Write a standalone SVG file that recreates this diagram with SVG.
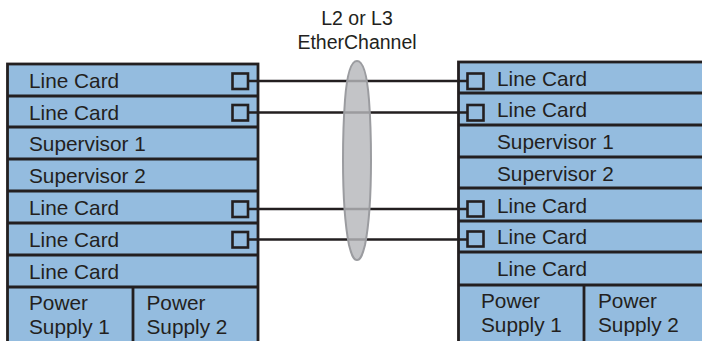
<svg xmlns="http://www.w3.org/2000/svg" width="702" height="341" viewBox="0 0 702 341">
<style>
.box{fill:#94bcdf;stroke:#231f20;stroke-width:2.8}
.div{stroke:#231f20;stroke-width:2.8;fill:none}
.port{fill:none;stroke:#231f20;stroke-width:2.6}
.t{font-family:"Liberation Sans",Arial,sans-serif;font-size:20.8px;fill:#231f20}
.title{font-family:"Liberation Sans",Arial,sans-serif;font-size:19.5px;fill:#231f20;text-anchor:middle}
.link{stroke:#231f20;stroke-width:2.6;fill:none}
</style>
<rect width="702" height="341" fill="#ffffff"/>
<g id="left-switch">
<rect class="box" x="7.5" y="64" width="250.5" height="282"/>
<path class="div" d="M7.5 96H258M7.5 127H258M7.5 159H258M7.5 191H258M7.5 223H258M7.5 255H258M7.5 287H258M133 287V346"/>
<text class="t" x="29" y="88">Line Card</text>
<text class="t" x="29" y="120">Line Card</text>
<text class="t" x="29" y="151">Supervisor 1</text>
<text class="t" x="29" y="183">Supervisor 2</text>
<text class="t" x="29" y="215">Line Card</text>
<text class="t" x="29" y="247">Line Card</text>
<text class="t" x="29" y="279">Line Card</text>
<text class="t" x="29" y="309.5">Power</text>
<text class="t" x="29" y="333.5">Supply 1</text>
<text class="t" x="146.5" y="309.5">Power</text>
<text class="t" x="146.5" y="333.5">Supply 2</text>
<rect class="port" x="232.5" y="73.5" width="15.5" height="15.5"/>
<rect class="port" x="232.5" y="105" width="15.5" height="15.5"/>
<rect class="port" x="232.5" y="201.5" width="15.5" height="15.5"/>
<rect class="port" x="232.5" y="232" width="15.5" height="15.5"/>
</g>
<g id="right-switch">
<rect class="box" x="458.5" y="62" width="250" height="284"/>
<path class="div" d="M458.5 93H709M458.5 125H709M458.5 157H709M458.5 188H709M458.5 221H709M458.5 252H709M458.5 285H709M584 285V346"/>
<text class="t" x="497" y="85.5">Line Card</text>
<text class="t" x="497" y="117">Line Card</text>
<text class="t" x="497" y="149">Supervisor 1</text>
<text class="t" x="497" y="181">Supervisor 2</text>
<text class="t" x="497" y="212.5">Line Card</text>
<text class="t" x="497" y="244">Line Card</text>
<text class="t" x="497" y="276">Line Card</text>
<text class="t" x="481" y="308">Power</text>
<text class="t" x="481" y="331.5">Supply 1</text>
<text class="t" x="598" y="308">Power</text>
<text class="t" x="598" y="331.5">Supply 2</text>
<rect class="port" x="467.5" y="73.5" width="16" height="15.5"/>
<rect class="port" x="467.5" y="105" width="16" height="15.5"/>
<rect class="port" x="467.5" y="201.5" width="16" height="15"/>
<rect class="port" x="467.5" y="231.5" width="16" height="15"/>
</g>
<g id="connectors">
<path class="link" d="M248 81H467.5M248 112.5H467.5M248 209H467.5M248 239.5H467.5"/>
</g>
<g id="etherchannel">
<path d="M357 61C364 61 367.5 80 369 100C370.5 120 371 140 371 160C371 200 368 230 365 245C362 257 360 260 357 260C354 260 352 257 349 245C346 230 343 200 343 160C343 140 343.5 120 345 100C346.5 80 350 61 357 61Z" fill="#b6b7bb" fill-opacity="0.82" stroke="#9b9ca0" stroke-width="2"/>
<text class="title" x="357" y="25">L2 or L3</text>
<text class="title" x="357" y="48.5">EtherChannel</text>
</g>
</svg>
